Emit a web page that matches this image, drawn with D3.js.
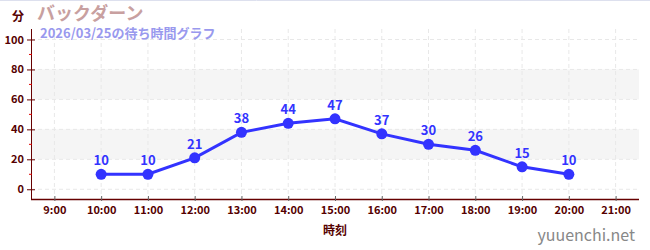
<!DOCTYPE html>
<html>
<head>
<meta charset="utf-8">
<script src="https://cdn.jsdelivr.net/npm/d3@7"></script>
<style>
body { margin: 0; background: #fff; }
text { font-family: "Noto Sans CJK JP", "Noto Sans", sans-serif; }
</style>
</head>
<body>
<div class="chart"></div>
<script>
// Wait times (minutes) by hour
var hours = [10, 11, 12, 13, 14, 15, 16, 17, 18, 19, 20];
var waits = [10, 10, 21, 38, 44, 47, 37, 30, 26, 15, 10];
var hour_ticks = [9, 10, 11, 12, 13, 14, 15, 16, 17, 18, 19, 20, 21];
var y_ticks = [0, 20, 40, 60, 80, 100];
var y_minor = [10, 30, 50, 70, 90];
var bands = [[20, 40], [60, 80]];

var W = 650, H = 250;
var PL = 31, PR = 639, PT = 29, PB = 199;

var svg = d3.select(".chart").append("svg")
        .attr("width", W)
        .attr("height", H);

var x = d3.scaleLinear().domain([8.5, 21.5]).range([PL, PR]);
var y = d3.scaleLinear().domain([-6.5, 107]).range([PB, PT]);

// top border line
svg.append("line").attr("x1", 0).attr("x2", W).attr("y1", 0.5).attr("y2", 0.5)
        .attr("stroke", "#dde0ee").attr("stroke-width", 1);

// grey bands
bands.forEach(function (b) {
    svg.append("rect")
            .attr("x", PL).attr("width", PR - PL)
            .attr("y", y(b[1])).attr("height", y(b[0]) - y(b[1]))
            .attr("fill", "#f5f5f5");
});

// grid
hour_ticks.forEach(function (h) {
    svg.append("line")
            .attr("x1", x(h)).attr("x2", x(h))
            .attr("y1", PT).attr("y2", PB)
            .attr("stroke", "#e8e8e8").attr("stroke-dasharray", "4,3");
});
y_ticks.forEach(function (v) {
    svg.append("line")
            .attr("x1", PL).attr("x2", PR)
            .attr("y1", y(v)).attr("y2", y(v))
            .attr("stroke", "#e8e8e8").attr("stroke-dasharray", "4,3");
});

// y axis
var yAxis = svg.append("g").attr("transform", "translate(" + PL + ",0)")
        .call(d3.axisLeft(y).tickValues(y_ticks).tickSize(4).tickPadding(3));
yAxis.select(".domain").attr("stroke", "#660000").attr("d", "M0.5," + PT + "V" + PB);
yAxis.selectAll(".tick line").attr("stroke", "#660000").attr("transform", "translate(4,0)").attr("x2", -8);
yAxis.selectAll(".tick text").attr("fill", "#550000").attr("font-size", 11)
        .attr("font-weight", "bold").attr("font-family", "'Liberation Sans', sans-serif");
y_minor.forEach(function (v) {
    svg.append("line").attr("x1", PL - 2).attr("x2", PL + 1)
            .attr("y1", y(v)).attr("y2", y(v))
            .attr("stroke", "#dd0000");
});

// x axis
var xAxis = svg.append("g").attr("transform", "translate(0," + PB + ")")
        .call(d3.axisBottom(x).tickValues(hour_ticks).tickSize(4).tickPadding(3)
                .tickFormat(function (d) { return d + ":00"; }));
xAxis.select(".domain").attr("stroke", "#660000").attr("stroke-width", 1.5)
        .attr("d", "M" + PL + ",0.5H" + PR);
xAxis.selectAll(".tick line").attr("stroke", "#666").attr("y1", -3).attr("y2", 2);
xAxis.selectAll(".tick text").attr("fill", "#550000").attr("font-size", 11)
        .attr("font-weight", "bold").attr("font-family", "'Liberation Sans', sans-serif");

// line + dots
var line = d3.line()
        .x(function (d, i) { return x(hours[i]); })
        .y(function (d) { return y(d); });

svg.append("path").datum(waits)
        .attr("d", line)
        .attr("fill", "none")
        .attr("stroke", "#3333ff")
        .attr("stroke-width", 3);

svg.selectAll("circle.pt").data(waits).enter().append("circle")
        .attr("class", "pt")
        .attr("cx", function (d, i) { return x(hours[i]); })
        .attr("cy", function (d) { return y(d); })
        .attr("r", 5.5)
        .attr("fill", "#3333ff");

svg.selectAll("text.val").data(waits).enter().append("text")
        .attr("class", "val")
        .attr("x", function (d, i) { return x(hours[i]); })
        .attr("y", function (d) { return y(d) - 9; })
        .attr("text-anchor", "middle")
        .attr("font-size", 13)
        .attr("font-weight", "bold")
        .attr("fill", "#3333ff")
        .text(function (d) { return d; });

// titles and labels
svg.append("text").attr("x", 18).attr("y", 21).attr("text-anchor", "middle")
        .attr("font-size", 12).attr("font-weight", "bold").attr("fill", "#550000")
        .text("分");
svg.append("text").attr("x", 37).attr("y", 19.5)
        .attr("font-size", 18).attr("font-weight", "bold").attr("fill", "#c8a0a0")
        .text("バックダーン");
svg.append("text").attr("x", 40).attr("y", 37.5)
        .attr("font-size", 13).attr("font-weight", "bold").attr("fill", "#9999ee")
        .text("2026/03/25の待ち時間グラフ");
svg.append("text").attr("x", x(15)).attr("y", 235).attr("text-anchor", "middle")
        .attr("font-size", 12).attr("font-weight", "bold").attr("fill", "#550000")
        .text("時刻");
svg.append("text").attr("x", 635).attr("y", 241).attr("text-anchor", "end")
        .attr("font-size", 16).attr("fill", "#888")
        .text("yuuenchi.net");
</script>
</body>
</html>
